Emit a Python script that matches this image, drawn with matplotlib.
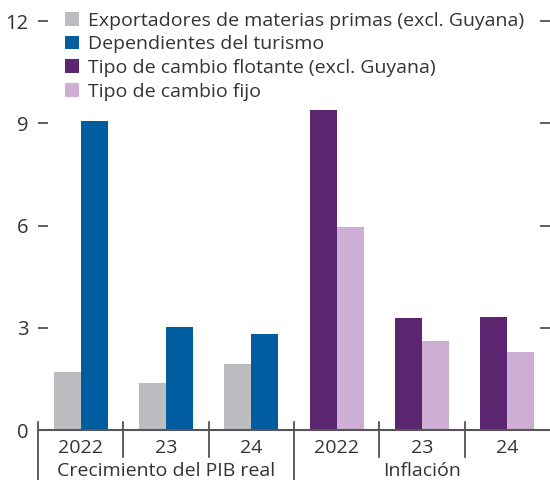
import numpy as np
import matplotlib.pyplot as plt
from matplotlib.transforms import blended_transform_factory

plt.rcParams['font.family'] = ['Open Sans', 'DejaVu Sans']
plt.rcParams['font.size'] = 14
plt.rcParams['text.color'] = '#333333'

# Datos (porcentaje)
anios = ['2022', '23', '24']
grupos = ['Crecimiento del PIB real', 'Inflación']
exportadores = [1.7, 1.38, 1.93]
turismo = [9.08, 3.02, 2.82]
flotante = [9.4, 3.28, 3.31]
fijo = [5.97, 2.61, 2.28]

etiquetas = ['Exportadores de materias primas (excl. Guyana)',
             'Dependientes del turismo',
             'Tipo de cambio flotante (excl. Guyana)',
             'Tipo de cambio fijo']
colores = ['#bcbdc0', '#005da0', '#5b2570', '#cdaed4']

fig = plt.figure(figsize=(5.5, 4.8), dpi=100)
ax = fig.add_axes([38 / 550, 50 / 480, 512 / 550, 409 / 480])

w = 0.315
x1 = np.arange(3)
x2 = np.arange(3) + 3
ax.bar(x1 - w / 2, exportadores, w, color=colores[0], label=etiquetas[0])
ax.bar(x1 + w / 2, turismo, w, color=colores[1], label=etiquetas[1])
ax.bar(x2 - w / 2, flotante, w, color=colores[2], label=etiquetas[2])
ax.bar(x2 + w / 2, fijo, w, color=colores[3], label=etiquetas[3])

ax.set_xlim(-0.5, 5.5)
ax.set_ylim(0, 12)
ax.set_yticks([0, 3, 6, 9, 12])
ax.set_yticklabels(['0', '3', '6', '9', '12'])
ax.yaxis.set_ticks_position('both')
ax.tick_params(axis='y', direction='in', length=7, width=1.2, color='#444444',
               pad=7, labelsize=14.5, labelcolor='#333333')
ax.set_xticks([])

for s in ['left', 'right', 'top']:
    ax.spines[s].set_visible(False)
ax.spines['bottom'].set_color('#555555')
ax.spines['bottom'].set_linewidth(1.5)

# etiquetas de años y de grupo
trans = blended_transform_factory(ax.transData, ax.transAxes)
for i, a in enumerate(anios * 2):
    ax.text(i, -0.043, a, transform=trans, ha='center', va='center', fontsize=14)
ax.text(1, -0.1, grupos[0], transform=trans, ha='center', va='center', fontsize=14)
ax.text(4, -0.1, grupos[1], transform=trans, ha='center', va='center', fontsize=14)

# separadores verticales
for xs in [-0.5, 2.5]:
    ax.plot([xs, xs], [0.02, -0.13], transform=trans, color='#444444',
            lw=1.2, clip_on=False)
for xs in [0.5, 1.5, 3.5, 4.5]:
    ax.plot([xs, xs], [0.02, -0.066], transform=trans, color='#444444',
            lw=1.2, clip_on=False)

ax.legend(loc='upper left', bbox_to_anchor=(27 / 512, 1.023), frameon=False,
          handlelength=0.72, handleheight=0.72, handletextpad=0.45,
          labelspacing=0.29, borderaxespad=0, borderpad=0, fontsize=14)

fig.savefig('out.png', dpi=100)
